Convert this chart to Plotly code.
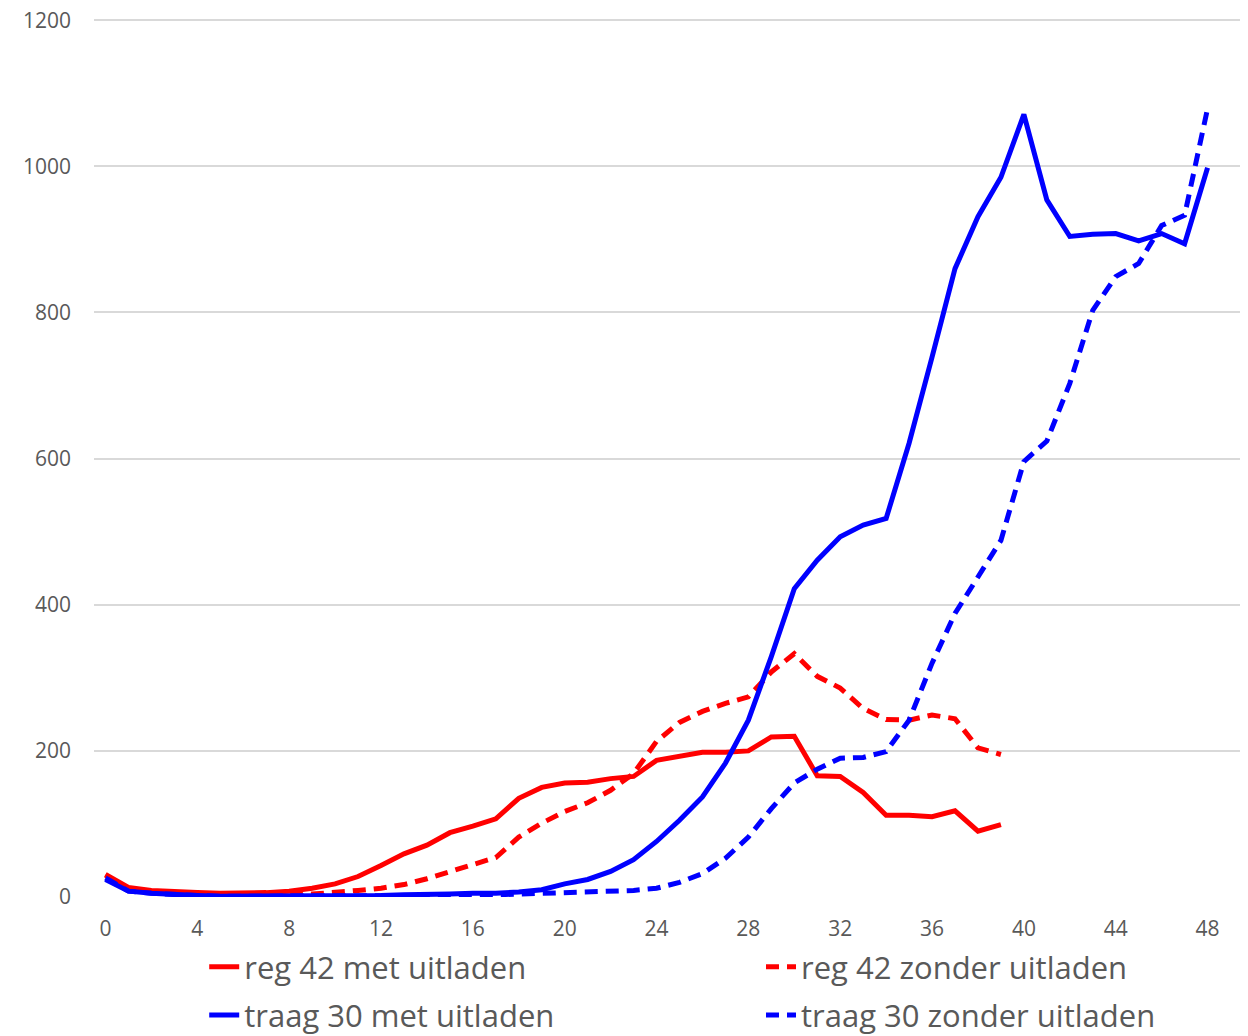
import plotly.graph_objects as go

# Waarden
x_reg = list(range(0, 40))
x_traag = list(range(0, 49))

reg42_met = [31, 13, 9, 7, 6, 5, 5, 6, 8, 12, 18, 28, 43, 59, 71, 88, 97, 107, 135, 150,
             156, 157, 162, 165, 187, 193, 198, 198, 200, 219, 220, 166, 165, 143, 112, 112,
             110, 118, 90, 99]
reg42_zonder = [30, 10, 6, 4, 3, 2, 2, 2, 3, 4, 6, 9, 12, 17, 25, 35, 45, 54, 82, 101,
                117, 129, 146, 169, 213, 239, 254, 265, 274, 308, 333, 302, 286, 258, 243, 242,
                249, 244, 204, 195]
traag30_met = [24, 8, 5, 3, 2, 1, 1, 1, 1, 1, 1, 1, 2, 3, 3, 4, 5, 5, 7, 10,
               18, 24, 35, 51, 76, 105, 137, 183, 242, 329, 422, 461, 493, 509, 518, 621,
               739, 860, 931, 985, 1071, 954, 904, 907, 908, 898, 908, 894, 998]
traag30_zonder = [26, 8, 5, 3, 2, 1, 1, 1, 1, 1, 1, 1, 1, 1, 2, 2, 2, 3, 4, 5,
                  5.5, 6.5, 7.5, 9, 12, 20, 32, 53, 82, 121, 156, 175, 190, 191, 199, 242,
                  320, 388, 438, 488, 596, 624, 703, 803, 849, 867, 919, 933, 1079]

x_ticks = list(range(0, 49, 4))
y_ticks = [0, 200, 400, 600, 800, 1000, 1200]

RED = "#FF0000"
BLUE = "#0000FF"
LW = 5
DASH = "13px,8px"

fig = go.Figure()

# elke serie krijgt een eigen legenda zodat de posities vastliggen
fig.add_trace(go.Scatter(x=x_reg, y=reg42_met, mode="lines", name="reg 42 met uitladen",
                         line=dict(color=RED, width=LW), legend="legend"))
fig.add_trace(go.Scatter(x=x_reg, y=reg42_zonder, mode="lines", name="reg 42 zonder uitladen",
                         line=dict(color=RED, width=LW, dash=DASH), legend="legend2"))
fig.add_trace(go.Scatter(x=x_traag, y=traag30_met, mode="lines", name="traag 30 met uitladen",
                         line=dict(color=BLUE, width=LW), legend="legend3"))
fig.add_trace(go.Scatter(x=x_traag, y=traag30_zonder, mode="lines", name="traag 30 zonder uitladen",
                         line=dict(color=BLUE, width=LW, dash=DASH), legend="legend4"))

legend_font = dict(family="Open Sans, Liberation Sans, sans-serif", size=31, color="#595959")


def legenda(x, y):
    return dict(orientation="h", x=x, y=y, xanchor="left", yanchor="middle",
                font=legend_font, bgcolor="rgba(0,0,0,0)")


# pagina heeft 8px body-marge, dus figuur iets kleiner en marges verschoven;
# y-bereik iets boven 1200 zodat de bovenste rasterlijn niet wordt weggeknipt
fig.update_layout(
    width=1240,
    height=1028,
    showlegend=True,
    margin=dict(l=86, r=6, t=10, b=139, autoexpand=False),
    plot_bgcolor="white",
    paper_bgcolor="white",
    font=dict(family="Open Sans, Liberation Sans, sans-serif", size=21, color="#595959"),
    xaxis=dict(
        range=[-0.5, 49.5],
        tickvals=x_ticks,
        showgrid=False,
        zeroline=False,
        showline=False,
        ticks="",
        ticklabelstandoff=17,
    ),
    yaxis=dict(
        range=[0, 1203],
        tickvals=y_ticks,
        showgrid=True,
        gridcolor="#D9D9D9",
        gridwidth=1.5,
        zeroline=False,
        showline=False,
        ticks="",
        ticklabelstandoff=22,
        ticklabeloverflow="allow",
    ),
    legend=legenda(0.096, -0.0798),
    legend2=legenda(0.581, -0.0798),
    legend3=legenda(0.096, -0.1345),
    legend4=legenda(0.581, -0.1345),
)

fig.write_html("out.html")
